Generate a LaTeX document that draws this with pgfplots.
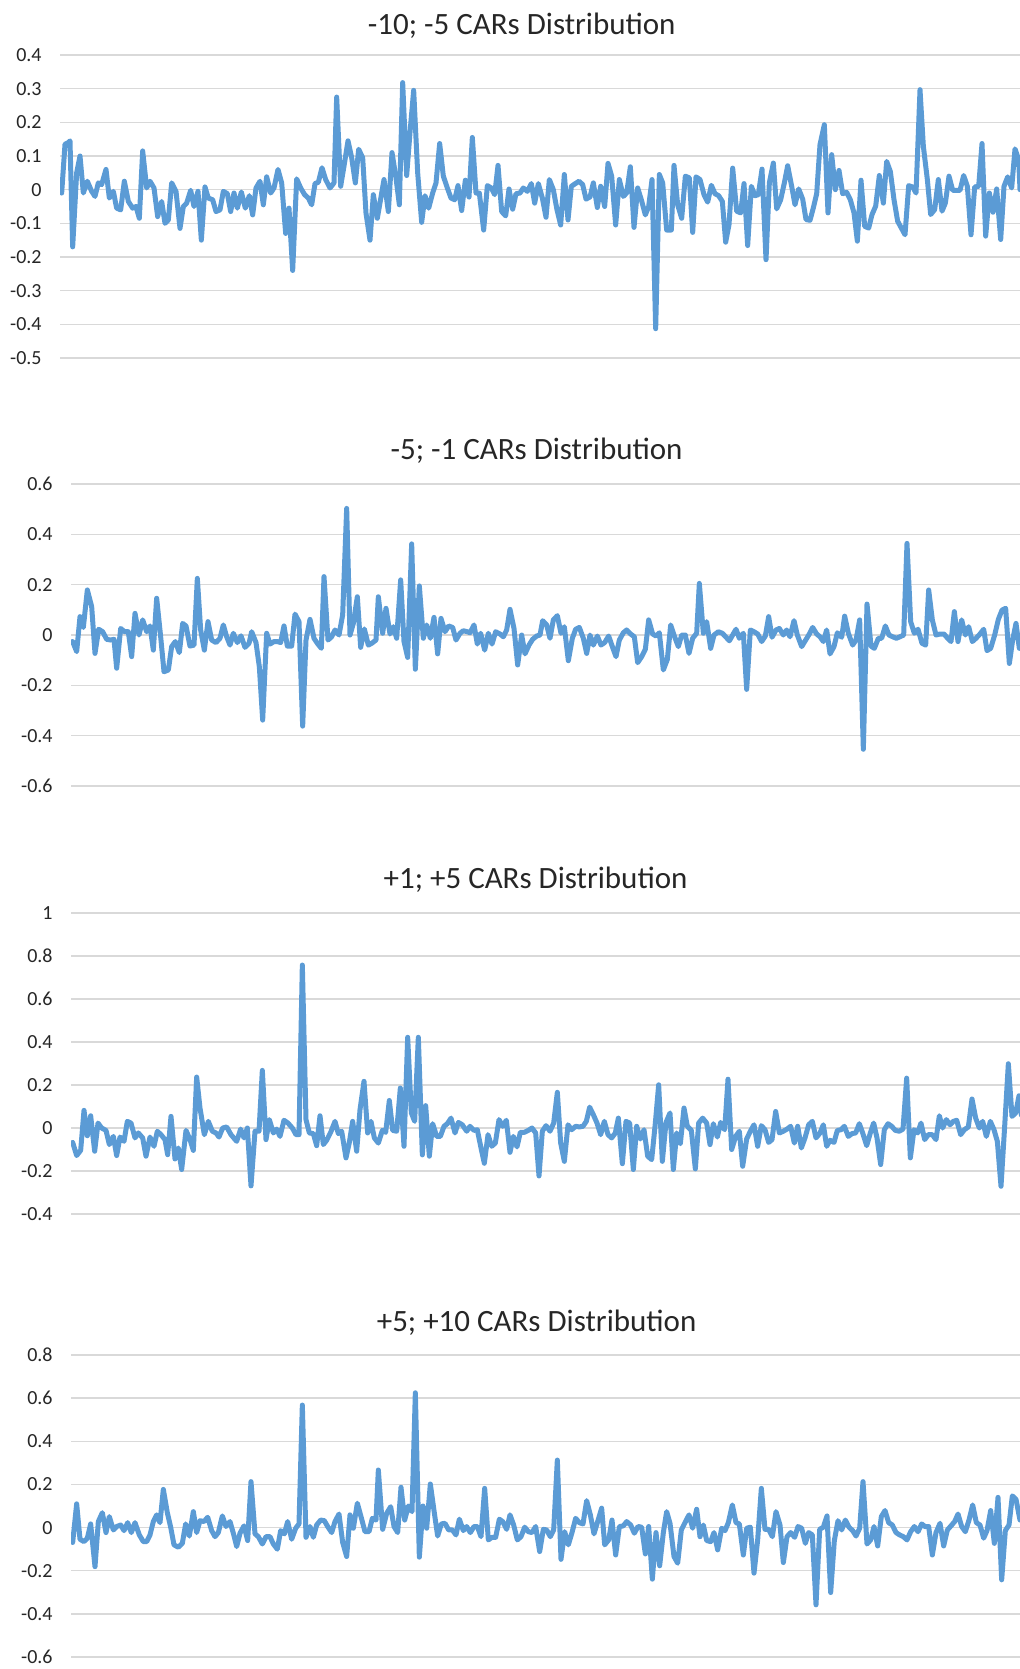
\documentclass[border=0pt]{standalone}
\usepackage{fontspec}
\setmainfont{Carlito}
\usepackage{pgfplots}
\pgfplotsset{compat=1.18}
\definecolor{exblue}{HTML}{5B9BD5}
\definecolor{gridgray}{HTML}{D9D9D9}
\definecolor{txtgray}{HTML}{262626}

\pgfplotsset{
  carstyle/.style={
    scale only axis,
    anchor=north west,
    axis line style={draw=none},
    tick style={draw=none},
    xtick=\empty,
    ymajorgrids,
    grid style={gridgray, line width=0.7pt},
    yticklabel style={font=\fontsize{10}{12}\selectfont, text=txtgray, anchor=east, inner sep=0pt, xshift=-9pt},
    title style={font=\fontsize{15.5}{18}\selectfont, text=txtgray, anchor=center},
    xmax=3060,
  },
  carline/.style={exblue, line width=2.5pt, line join=round, line cap=round, mark=none},
}

\begin{document}
\begin{tikzpicture}
\useasboundingbox (0,0) rectangle (510pt,-834.5pt);

% -10; -5
\begin{axis}[carstyle, at={(30pt,-27.5pt)}, width=480pt, height=151.5pt,
  xmin=180, ymin=-0.5, ymax=0.4,
  ytick={-0.5,-0.4,-0.3,-0.2,-0.1,0,0.1,0.2,0.3,0.4},
  yticklabels={-0.5,-0.4,-0.3,-0.2,-0.1,0,0.1,0.2,0.3,0.4},
  title={-10; -5 CARs Distribution},
  title style={at={(axis description cs:0.481,1)}, yshift=8.8pt}]
\addplot[carline] coordinates {
(185,-0.01)(195,0.135)(205,0.14)(210,0.145)(218,-0.17)(230,0.05)(240,0.10)(250,-0.01)
(262,0.025)(275,-0.005)(285,-0.02)(295,0.02)(305,0.015)(318,0.06)(328,-0.025)(340,-0.005)
(350,-0.055)(362,-0.06)(373,0.025)(385,-0.035)(398,-0.055)(408,-0.05)(418,-0.085)(428,0.115)
(440,0.005)(450,0.025)(462,0.005)(473,-0.08)(485,-0.035)(495,-0.1)(505,-0.09)(515,0.02)
(528,-0.005)(540,-0.115)(550,-0.05)(560,-0.04)(572,-0.002)(582,-0.05)(594,-0.005)(604,-0.15)
(615,0.008)(625,-0.025)(638,-0.03)(648,-0.065)(660,-0.06)(670,-0.005)(682,-0.012)(692,-0.065)
(702,-0.01)(712,-0.055)(724,-0.007)(736,-0.055)(748,-0.018)(758,-0.075)(768,0.005)(780,0.025)
(790,-0.045)(800,0.038)(812,-0.01)(822,0.005)(834,0.06)(845,0.02)(857,-0.13)(867,-0.055)
(878,-0.24)(890,0.032)(902,0.005)(914,-0.015)(925,-0.025)(935,-0.045)(945,0.018)(955,0.022)
(966,0.065)(977,0.03)(990,0.005)(1002,0.02)(1010,0.275)(1022,0.01)(1032,0.07)(1044,0.145)
(1055,0.095)(1066,0.02)(1076,0.12)(1088,0.095)(1098,-0.07)(1110,-0.15)(1120,-0.015)(1132,-0.085)
(1152,0.03)(1165,-0.065)(1176,0.11)(1188,0.035)(1198,-0.045)(1208,0.318)(1220,0.042)(1230,0.17)
(1241,0.295)(1253,0.05)(1265,-0.097)(1275,-0.018)(1286,-0.055)(1298,-0.01)(1308,0.02)(1319,0.137)
(1330,0.04)(1342,0.005)(1353,-0.025)(1364,-0.03)(1374,0.012)(1385,-0.062)(1396,0.028)(1407,-0.022)
(1417,0.155)(1428,-0.01)(1438,-0.01)(1451,-0.12)(1462,0.012)(1474,0.005)(1484,-0.015)(1494,0.072)
(1505,-0.065)(1517,-0.078)(1527,0.002)(1538,-0.058)(1548,-0.012)(1560,-0.01)(1570,0.005)(1582,-0.005)
(1594,0.018)(1604,-0.04)(1615,0.018)(1627,-0.025)(1638,-0.082)(1648,0.03)(1660,0.0)(1671,-0.06)
(1682,-0.105)(1693,0.045)(1704,-0.09)(1714,0.01)(1726,0.018)(1737,0.025)(1748,0.015)(1758,-0.028)
(1770,-0.022)(1780,0.02)(1792,-0.053)(1802,0.01)(1814,-0.05)(1824,0.078)(1835,0.04)(1847,-0.105)
(1858,0.03)(1870,-0.02)(1880,-0.01)(1891,0.068)(1902,-0.112)(1913,0.005)(1924,-0.03)(1936,-0.075)
(1946,-0.05)(1956,0.03)(1967,-0.413)(1978,0.045)(1988,0.02)(2000,-0.12)(2014,-0.12)(2022,0.072)
(2033,-0.045)(2045,-0.085)(2056,0.04)(2068,0.035)(2078,-0.127)(2088,0.038)(2100,0.03)(2112,-0.015)
(2123,-0.037)(2134,0.013)(2145,-0.012)(2156,-0.018)(2167,-0.035)(2177,-0.156)(2187,-0.104)(2198,0.064)
(2210,-0.064)(2222,-0.069)(2232,0.018)(2243,-0.166)(2254,0.01)(2265,-0.018)(2275,-0.015)(2286,0.061)
(2298,-0.208)(2308,0.02)(2320,0.079)(2330,-0.057)(2342,-0.03)(2353,0.02)(2363,0.071)(2375,0.01)
(2385,-0.045)(2396,0.002)(2408,-0.028)(2418,-0.089)(2430,-0.091)(2440,-0.054)(2450,-0.012)(2460,0.134)
(2473,0.193)(2484,-0.069)(2495,0.104)(2506,0.0)(2517,0.057)(2528,-0.012)(2540,-0.008)(2551,-0.03)
(2562,-0.069)(2572,-0.153)(2583,0.028)(2594,-0.109)(2606,-0.114)(2616,-0.074)(2627,-0.049)(2638,0.042)
(2650,-0.04)(2660,0.084)(2671,0.054)(2682,-0.03)(2693,-0.094)(2704,-0.114)(2715,-0.134)(2726,0.012)
(2738,0.008)(2748,-0.01)(2760,0.297)(2770,0.129)(2782,0.03)(2792,-0.074)(2804,-0.059)(2815,0.03)
(2826,-0.064)(2836,-0.04)(2847,0.04)(2858,-0.002)(2869,-0.002)(2880,-0.002)(2891,0.042)(2902,0.01)
(2913,-0.134)(2924,0.008)(2936,0.01)(2946,0.137)(2957,-0.138)(2968,-0.01)(2979,-0.067)(2990,0.002)
(3002,-0.148)(3012,0.01)(3023,0.038)(3035,0.005)(3045,0.121)(3056,0.089)(3060,0.0)
};
\end{axis}

% -5; -1
\begin{axis}[carstyle, at={(35.5pt,-242pt)}, width=474.5pt, height=151pt,
  xmin=213, ymin=-0.6, ymax=0.6,
  ytick={-0.6,-0.4,-0.2,0,0.2,0.4,0.6},
  yticklabels={-0.6,-0.4,-0.2,0,0.2,0.4,0.6},
  title={-5; -1 CARs Distribution},
  title style={at={(axis description cs:0.4906,1)}, yshift=10.5pt}]
\addplot[carline] coordinates {
(218,-0.026)(230,-0.066)(240,0.073)(250,0.03)(262,0.179)(275,0.113)(285,-0.073)(296,0.023)
(308,0.013)(320,-0.017)(332,-0.02)(342,-0.017)(350,-0.132)(362,0.026)(374,0.013)(385,0.013)
(395,-0.086)(405,0.086)(417,0.0)(428,0.06)(440,0.013)(450,0.036)(460,-0.06)(470,0.146)
(482,-0.007)(492,-0.146)(505,-0.139)(515,-0.046)(526,-0.026)(538,-0.07)(548,0.046)(558,0.036)
(570,-0.044)(582,-0.04)(592,0.225)(602,0.02)(613,-0.06)(624,0.053)(635,-0.02)(648,-0.03)
(660,-0.013)(670,0.04)(680,-0.007)(690,-0.04)(700,0.007)(712,-0.03)(723,-0.003)(735,-0.049)
(747,-0.033)(755,0.013)(768,-0.03)(778,-0.126)(788,-0.338)(800,0.007)(810,-0.036)(822,-0.026)
(832,-0.026)(842,-0.03)(852,0.036)(862,-0.044)(875,-0.044)(885,0.083)(897,0.053)(908,-0.362)
(918,-0.02)(930,0.062)(942,-0.013)(952,-0.033)(964,-0.053)(972,0.232)(984,-0.02)(995,-0.007)
(1005,0.02)(1017,0.0)(1028,0.08)(1040,0.503)(1050,0.0)(1060,0.046)(1072,0.152)(1082,-0.049)
(1093,0.024)(1105,-0.04)(1115,-0.033)(1128,-0.02)(1135,0.152)(1148,0.007)(1158,0.106)(1170,0.004)
(1180,0.033)(1190,-0.013)(1202,0.219)(1212,-0.026)(1223,-0.089)(1235,0.362)(1246,-0.136)(1258,0.195)
(1270,-0.013)(1280,0.04)(1291,-0.013)(1302,0.07)(1313,-0.075)(1323,0.066)(1335,0.013)(1346,0.036)
(1358,0.03)(1368,-0.02)(1380,0.007)(1390,0.017)(1402,0.013)(1410,0.009)(1422,0.04)(1432,-0.036)
(1442,0.007)(1454,-0.06)(1465,0.007)(1476,-0.036)(1487,0.013)(1500,0.004)(1510,-0.007)(1520,0.02)
(1530,0.102)(1542,0.026)(1553,-0.119)(1565,0.0)(1575,-0.075)(1587,-0.04)(1598,-0.017)(1610,-0.004)
(1620,0.0)(1628,0.057)(1640,0.04)(1650,-0.013)(1660,0.06)(1672,0.077)(1683,0.007)(1693,0.033)
(1705,-0.102)(1717,-0.013)(1727,0.023)(1738,0.03)(1750,-0.013)(1760,-0.073)(1770,0.0)(1780,-0.04)
(1792,-0.004)(1803,-0.04)(1814,-0.03)(1826,-0.004)(1837,-0.046)(1848,-0.086)(1858,-0.02)(1870,0.009)
(1880,0.02)(1892,0.004)(1903,-0.007)(1913,-0.11)(1925,-0.086)(1936,-0.057)(1946,0.06)(1958,0.004)
(1968,-0.004)(1978,0.009)(1990,-0.139)(2002,-0.097)(2012,0.04)(2023,-0.004)(2035,-0.046)(2045,0.0)
(2056,0.0)(2067,-0.073)(2078,-0.013)(2090,0.007)(2098,0.205)(2110,0.007)(2120,0.053)(2132,-0.053)
(2142,0.0)(2155,0.013)(2167,0.007)(2177,-0.007)(2188,-0.023)(2198,0.0)(2208,0.023)(2218,-0.013)
(2230,0.007)(2240,-0.216)(2251,0.02)(2262,0.013)(2273,0.004)(2285,-0.026)(2296,-0.004)(2306,0.073)
(2316,-0.009)(2328,0.02)(2338,0.026)(2350,0.0)(2360,0.02)(2370,-0.007)(2382,0.057)(2392,0.0)
(2405,-0.046)(2417,-0.02)(2428,0.004)(2438,0.03)(2450,0.004)(2460,-0.007)(2470,-0.026)(2480,0.02)
(2490,-0.075)(2502,-0.046)(2512,0.009)(2525,-0.009)(2534,0.075)(2545,0.007)(2558,-0.04)(2568,-0.02)
(2579,0.06)(2590,-0.454)(2601,0.123)(2613,-0.044)(2623,-0.053)(2635,-0.013)(2645,-0.013)(2656,0.036)
(2667,0.0)(2678,-0.007)(2689,-0.013)(2700,-0.007)(2711,0.0)(2721,0.364)(2732,0.053)(2743,0.007)
(2754,0.023)(2766,-0.033)(2777,-0.04)(2786,0.179)(2797,0.06)(2808,0.0)(2820,0.004)(2832,0.004)
(2843,-0.013)(2853,-0.026)(2863,0.093)(2874,-0.026)(2885,0.06)(2896,0.0)(2906,0.033)(2917,-0.026)
(2928,-0.013)(2940,0.004)(2951,0.023)(2961,-0.062)(2972,-0.053)(2984,0.0)(2995,0.062)(3006,0.099)
(3017,0.106)(3028,-0.113)(3038,-0.02)(3048,0.046)(3058,-0.053)
};
\end{axis}

% +1; +5
\begin{axis}[carstyle, at={(35.5pt,-456.5pt)}, width=474.5pt, height=150.5pt,
  xmin=213, ymin=-0.4, ymax=1,
  ytick={-0.4,-0.2,0,0.2,0.4,0.6,0.8,1},
  yticklabels={-0.4,-0.2,0,0.2,0.4,0.6,0.8,1},
  title={+1; +5 CARs Distribution},
  title style={at={(axis description cs:0.4895,1)}, yshift=10.5pt}]
\addplot[carline] coordinates {
(218,-0.067)(230,-0.128)(242,-0.104)(252,0.082)(262,-0.036)(272,0.057)(284,-0.108)(294,0.023)
(305,0.0)(318,-0.011)(328,-0.077)(340,-0.039)(350,-0.128)(360,-0.042)(372,-0.062)(382,0.031)
(393,0.023)(405,-0.046)(415,-0.023)(428,-0.046)(438,-0.131)(450,-0.042)(462,-0.085)(472,-0.015)
(483,-0.031)(495,-0.054)(503,-0.124)(513,0.054)(525,-0.144)(535,-0.093)(545,-0.193)(558,-0.011)
(570,-0.054)(580,-0.104)(590,0.237)(600,0.093)(613,-0.031)(625,0.031)(637,-0.015)(648,-0.023)
(657,-0.042)(668,0.0)(680,0.005)(693,-0.031)(710,-0.062)(722,-0.005)(732,-0.046)(742,0.0)
(753,-0.269)(765,-0.015)(777,-0.015)(787,0.268)(798,-0.054)(808,0.039)(820,-0.023)(830,-0.005)
(840,-0.039)(852,0.036)(864,0.023)(877,0.0)(888,-0.031)(897,-0.031)(907,0.758)(918,0.039)
(928,-0.023)(940,-0.026)(950,-0.082)(960,0.057)(970,-0.077)(980,-0.057)(992,-0.02)(1005,0.031)
(1015,-0.026)(1025,-0.015)(1038,-0.139)(1048,-0.067)(1058,0.031)(1070,-0.108)(1080,0.085)(1092,0.217)
(1103,-0.023)(1113,0.031)(1123,-0.046)(1135,-0.07)(1147,-0.011)(1157,-0.02)(1168,0.128)(1178,-0.011)
(1190,-0.015)(1201,0.186)(1212,-0.085)(1223,0.422)(1234,0.07)(1244,0.031)(1255,0.422)(1267,-0.125)
(1277,0.104)(1288,-0.131)(1298,0.02)(1310,-0.039)(1321,-0.039)(1332,0.008)(1342,0.02)(1353,0.046)
(1365,-0.023)(1375,0.026)(1387,0.015)(1400,-0.015)(1410,0.008)(1422,-0.011)(1432,-0.008)(1443,-0.093)
(1453,-0.164)(1464,-0.031)(1475,-0.085)(1486,-0.07)(1497,0.039)(1508,0.008)(1519,0.036)(1530,-0.113)
(1540,-0.039)(1551,-0.088)(1561,-0.02)(1573,-0.02)(1585,-0.011)(1596,0.0)(1607,-0.023)(1617,-0.223)
(1627,-0.015)(1638,0.011)(1650,-0.015)(1661,0.023)(1672,0.166)(1682,-0.07)(1693,-0.155)(1704,0.015)
(1715,-0.008)(1727,0.008)(1738,0.005)(1749,0.008)(1759,0.031)(1769,0.097)(1780,0.062)(1791,0.023)
(1802,-0.031)(1813,0.031)(1824,-0.031)(1835,-0.046)(1846,-0.023)(1855,0.046)(1867,-0.166)(1878,0.031)
(1889,0.023)(1900,-0.193)(1910,0.008)(1921,-0.051)(1932,-0.008)(1943,-0.131)(1955,-0.147)(1966,0.023)
(1976,0.201)(1987,-0.155)(1998,0.026)(2010,0.07)(2020,-0.193)(2030,-0.023)(2041,-0.073)(2052,0.093)
(2062,0.008)(2074,-0.011)(2086,-0.19)(2096,0.023)(2108,0.046)(2120,0.023)(2130,-0.077)(2140,0.02)
(2152,-0.042)(2162,0.026)(2174,-0.008)(2184,0.227)(2195,-0.1)(2207,-0.039)(2218,-0.015)(2228,-0.178)
(2240,-0.051)(2251,-0.015)(2262,0.015)(2273,-0.085)(2284,0.011)(2295,-0.008)(2306,-0.067)(2316,-0.054)
(2327,0.077)(2338,-0.023)(2350,-0.015)(2361,-0.005)(2372,0.008)(2383,-0.07)(2393,0.008)(2404,-0.093)
(2415,-0.046)(2426,0.015)(2437,0.031)(2448,-0.046)(2460,-0.023)(2470,0.015)(2480,-0.085)(2490,-0.057)
(2502,-0.067)(2512,-0.011)(2523,-0.008)(2533,0.008)(2545,-0.039)(2556,-0.026)(2567,-0.023)(2578,0.02)
(2588,-0.023)(2600,-0.082)(2611,-0.023)(2621,0.023)(2631,-0.046)(2642,-0.17)(2653,-0.008)(2664,0.02)
(2675,0.008)(2686,-0.011)(2698,-0.015)(2709,-0.005)(2720,0.232)(2731,-0.139)(2742,-0.008)(2753,-0.023)
(2763,0.023)(2774,-0.054)(2785,-0.031)(2797,-0.031)(2808,-0.054)(2818,0.057)(2828,0.0)(2839,0.039)
(2850,0.015)(2860,0.031)(2870,0.036)(2882,-0.031)(2893,-0.008)(2905,0.005)(2916,0.135)(2927,0.046)
(2938,0.0)(2948,0.031)(2959,-0.039)(2971,0.031)(2982,-0.008)(2992,-0.062)(3003,-0.271)(3014,0.008)
(3025,0.299)(3036,0.054)(3047,0.07)(3057,0.15)(3064,0.06)
};
\end{axis}

% +5; +10
\begin{axis}[carstyle, at={(35.5pt,-677.5pt)}, width=474.5pt, height=151pt,
  xmin=213, ymin=-0.6, ymax=0.8,
  ytick={-0.6,-0.4,-0.2,0,0.2,0.4,0.6,0.8},
  yticklabels={-0.6,-0.4,-0.2,0,0.2,0.4,0.6,0.8},
  title={+5; +10 CARs Distribution},
  title style={at={(axis description cs:0.4906,1)}, yshift=10.3pt}]
\addplot[carline] coordinates {
(218,-0.069)(230,0.11)(240,-0.054)(252,-0.065)(262,-0.049)(272,0.017)(285,-0.181)(295,0.028)
(307,0.069)(318,-0.023)(328,0.051)(340,-0.011)(350,0.005)(362,0.012)(372,-0.014)(383,0.023)
(394,-0.023)(405,0.023)(418,-0.034)(430,-0.065)(440,-0.065)(450,-0.034)(460,0.028)(470,0.059)
(480,0.023)(490,0.177)(502,0.069)(512,0.002)(522,-0.08)(535,-0.091)(547,-0.073)(557,0.017)
(568,-0.039)(580,0.074)(590,-0.023)(600,0.032)(612,0.028)(623,0.048)(635,-0.014)(645,-0.042)
(655,-0.023)(667,0.054)(678,0.005)(690,0.028)(700,-0.026)(710,-0.088)(720,-0.026)(732,0.008)
(743,-0.06)(753,0.213)(765,-0.029)(775,-0.042)(787,-0.076)(798,-0.042)(810,-0.042)(820,-0.076)
(832,-0.1)(842,-0.014)(853,-0.029)(863,0.028)(875,-0.054)(887,-0.003)(897,0.017)(907,0.568)
(918,-0.045)(930,0.005)(940,-0.045)(950,0.012)(962,0.035)(973,0.032)(983,0.005)(995,-0.023)
(1005,0.028)(1017,0.063)(1028,-0.069)(1040,-0.134)(1050,0.059)(1060,-0.003)(1072,0.113)(1083,0.051)
(1095,-0.019)(1107,-0.019)(1117,0.043)(1128,0.035)(1135,0.267)(1148,-0.008)(1160,0.066)(1172,0.097)
(1182,0.005)(1193,-0.023)(1203,0.187)(1214,0.035)(1225,0.1)(1236,0.074)(1246,0.625)(1258,-0.137)
(1269,0.1)(1280,-0.003)(1291,0.202)(1302,0.079)(1313,-0.039)(1324,0.017)(1335,0.02)(1346,-0.011)
(1357,-0.011)(1368,-0.034)(1378,0.039)(1390,-0.014)(1400,0.005)(1411,-0.023)(1422,0.005)(1432,0.005)
(1443,-0.042)(1454,0.182)(1465,-0.057)(1476,-0.045)(1487,-0.045)(1498,0.039)(1508,0.028)(1520,-0.008)
(1530,0.059)(1541,0.012)(1552,-0.057)(1563,-0.042)(1574,0.002)(1585,-0.019)(1596,-0.023)(1607,0.005)
(1619,-0.111)(1630,-0.008)(1640,-0.011)(1651,-0.042)(1661,-0.011)(1672,0.313)(1683,-0.147)(1694,-0.019)
(1705,-0.08)(1716,-0.023)(1727,0.043)(1738,0.023)(1749,0.017)(1760,0.125)(1771,0.059)(1782,-0.029)
(1793,0.028)(1805,0.09)(1814,-0.08)(1826,-0.057)(1836,0.035)(1847,-0.127)(1858,0.005)(1870,0.008)
(1880,0.028)(1892,0.012)(1903,-0.026)(1914,0.005)(1925,0.002)(1936,-0.122)(1946,0.005)(1957,-0.239)
(1968,-0.023)(1979,-0.177)(1990,-0.023)(2000,0.074)(2010,0.02)(2022,-0.134)(2033,-0.165)(2044,-0.011)
(2055,0.023)(2067,0.059)(2078,-0.003)(2090,0.085)(2100,-0.042)(2110,0.012)(2120,-0.06)(2132,-0.065)
(2142,-0.023)(2153,-0.103)(2165,-0.003)(2175,-0.014)(2185,0.023)(2197,0.105)(2208,0.023)(2218,0.017)
(2230,-0.127)(2240,-0.003)(2251,0.002)(2262,-0.211)(2273,-0.057)(2284,0.182)(2295,-0.008)(2306,-0.008)
(2317,-0.042)(2328,0.074)(2340,0.012)(2350,-0.162)(2361,-0.042)(2372,-0.023)(2384,-0.045)(2394,0.005)
(2405,-0.003)(2416,-0.073)(2426,-0.023)(2437,-0.034)(2448,-0.358)(2459,-0.008)(2470,0.002)(2481,0.054)
(2492,-0.301)(2503,-0.06)(2514,0.032)(2525,-0.011)(2536,0.035)(2547,0.002)(2558,-0.014)(2568,-0.039)
(2579,-0.003)(2589,0.213)(2601,-0.076)(2612,-0.057)(2622,0.005)(2633,-0.085)(2644,0.051)(2655,0.079)
(2666,0.023)(2677,0.012)(2688,-0.023)(2699,-0.034)(2710,-0.042)(2721,-0.057)(2732,-0.019)(2743,0.005)
(2754,-0.019)(2765,0.017)(2775,0.005)(2786,0.005)(2797,-0.127)(2808,-0.023)(2820,0.02)(2831,-0.085)
(2842,-0.011)(2853,0.008)(2864,0.028)(2874,0.063)(2885,0.005)(2896,-0.019)(2907,0.035)(2918,0.105)
(2929,0.023)(2940,0.012)(2951,-0.049)(2961,-0.014)(2972,0.079)(2983,-0.073)(2994,0.14)(3005,-0.242)
(3016,-0.014)(3027,0.012)(3037,0.147)(3048,0.131)(3060,0.035)
};
\end{axis}
\end{tikzpicture}
\end{document}
